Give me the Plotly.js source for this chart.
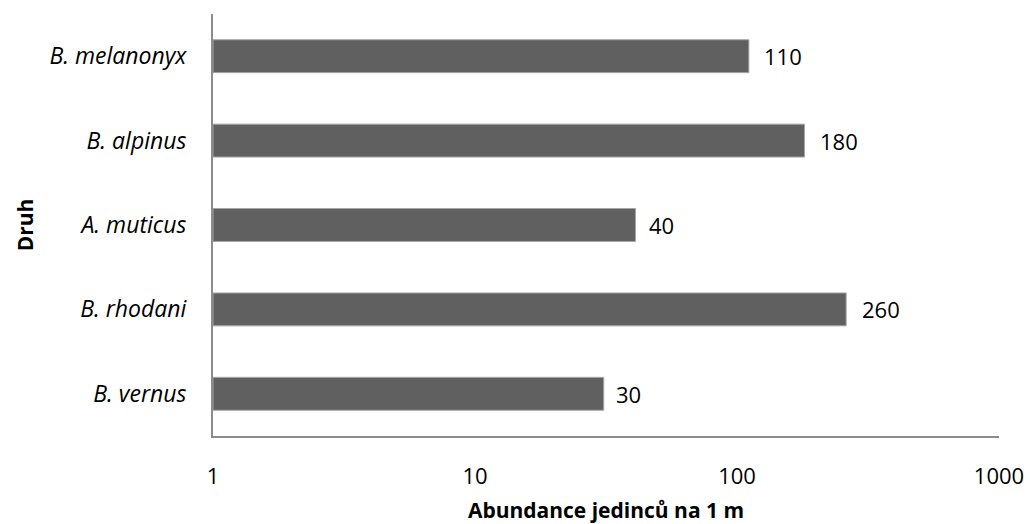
<!DOCTYPE html>
<html>
<head>
<meta charset="utf-8">
<script src="https://cdn.plot.ly/plotly-3.0.1.min.js"></script>
<style>html,body{margin:0;padding:0;background:#fff;}#chart{width:1030px;height:524px;}</style>
</head>
<body>
<div id="chart"></div>
<script>
const species = ["B. vernus", "B. rhodani", "A. muticus", "B. alpinus", "B. melanonyx"];
const abundance = [30, 260, 40, 180, 110];
const xTickVals = [1, 10, 100, 1000];
const xTickText = ["1", "10", "100", "1000"];

const FONT = "'Open Sans', sans-serif";

const trace = {
  type: "bar",
  orientation: "h",
  y: species,
  x: abundance,
  base: 1,
  marker: {color: "#606060", line: {color: "#a6a6a6", width: 1}},
  hoverinfo: "none"
};

const annotations = species.map((s, i) => ({
  x: Math.log10(abundance[i]),
  y: s,
  xref: "x",
  yref: "y",
  text: String(abundance[i]),
  showarrow: false,
  xanchor: "left",
  yanchor: "middle",
  xshift: 14,
  font: {family: FONT, size: 22, color: "#000"}
}));

const layout = {
  width: 1030,
  height: 524,
  margin: {l: 213, r: 31, t: 14, b: 88},
  paper_bgcolor: "#fff",
  plot_bgcolor: "#fff",
  showlegend: false,
  bargap: 0.61,
  font: {family: FONT, size: 22, color: "#000"},
  annotations: annotations,
  xaxis: {
    type: "log",
    range: [0, 3],
    tickvals: xTickVals,
    ticktext: xTickText,
    showgrid: false,
    zeroline: false,
    showline: true,
    linecolor: "#8c8c8c",
    linewidth: 2,
    ticks: "outside",
    ticklen: 20,
    tickcolor: "rgba(0,0,0,0)",
    tickfont: {family: FONT, size: 22, color: "#000"},
    title: {text: "<b>Abundance jedinců na 1 m</b>", font: {family: FONT, size: 21, color: "#000"}, standoff: 25}
  },
  yaxis: {
    type: "category",
    categoryorder: "array",
    categoryarray: species,
    tickvals: species,
    ticktext: species.map(s => "<i>" + s + "</i>"),
    showgrid: false,
    zeroline: false,
    showline: true,
    linecolor: "#8c8c8c",
    linewidth: 2,
    ticks: "outside",
    ticklen: 20,
    tickcolor: "rgba(0,0,0,0)",
    tickfont: {family: FONT, size: 23, color: "#000"},
    title: {text: "<b>Druh</b>", font: {family: FONT, size: 21, color: "#000"}, standoff: 10}
  }
};

Plotly.newPlot("chart", [trace], layout, {displayModeBar: false, staticPlot: true});
</script>
</body>
</html>
